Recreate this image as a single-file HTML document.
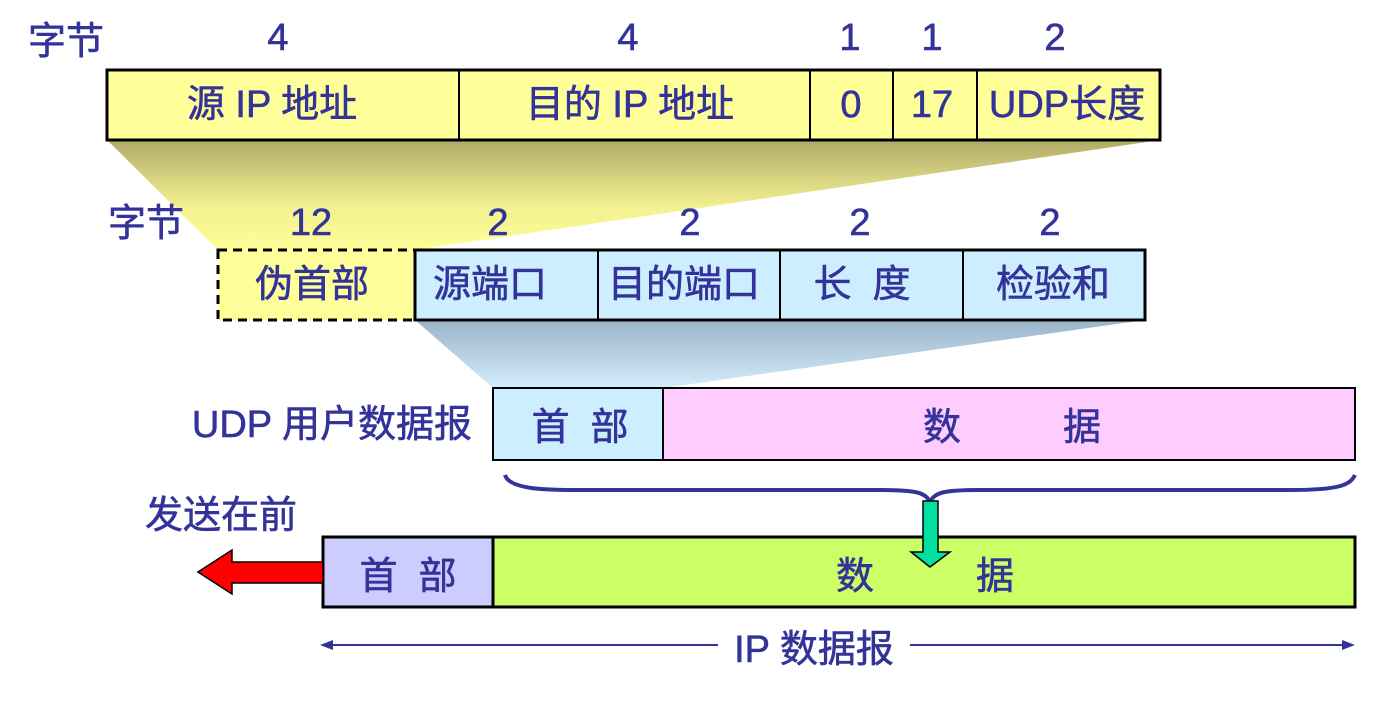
<!DOCTYPE html>
<html><head><meta charset="utf-8"><style>
body{margin:0;background:#fff}
svg text{font-family:"Liberation Sans","Noto Sans CJK SC",sans-serif;fill:#333399;font-size:38px;white-space:pre;stroke:#333399;stroke-width:0.6}
</style></head><body>
<svg width="1374" height="696" viewBox="0 0 1374 696" xmlns="http://www.w3.org/2000/svg">
<defs>
<linearGradient id="gy" x1="0" y1="0" x2="0" y2="1"><stop offset="0" stop-color="#b0aa6a"/><stop offset="0.6" stop-color="#f2f090"/><stop offset="1" stop-color="#ffff99"/></linearGradient>
<linearGradient id="gb" x1="0" y1="0" x2="0" y2="1"><stop offset="0" stop-color="#9ab4c8"/><stop offset="1" stop-color="#d4ecfb"/></linearGradient>
</defs>
<polygon points="107,140 1160,140 415,250 218,250" fill="url(#gy)"/>
<polygon points="415,320 1145,320 663,388 493,388" fill="url(#gb)"/>
<text x="28" y="54" font-size="34">字节</text>
<g text-anchor="middle" font-size="36">
<text x="278" y="50" font-size="36">4</text><text x="628" y="50" font-size="36">4</text><text x="850" y="50" font-size="36">1</text><text x="932" y="50" font-size="36">1</text><text x="1055" y="50" font-size="36">2</text>
</g>
<rect x="107" y="70" width="1053" height="70" fill="#ffff99" stroke="#000" stroke-width="3"/>
<g stroke="#000" stroke-width="2"><line x1="459" y1="70" x2="459" y2="140"/><line x1="810" y1="70" x2="810" y2="140"/><line x1="893" y1="70" x2="893" y2="140"/><line x1="977" y1="70" x2="977" y2="140"/></g>
<g text-anchor="middle">
<text x="272" y="117">源 IP 地址</text><text x="630" y="117">目的 IP 地址</text><text x="851" y="117">0</text><text x="932" y="117">17</text><text x="1067" y="117">UDP长度</text>
</g>
<text x="108" y="236" font-size="34">字节</text>
<g text-anchor="middle">
<text x="311" y="235" font-size="36">12</text><text x="498" y="235" font-size="36">2</text><text x="690" y="235" font-size="36">2</text><text x="860" y="235" font-size="36">2</text><text x="1050" y="235" font-size="36">2</text>
</g>
<rect x="218" y="250" width="197" height="70" fill="#ffff99" stroke="#000" stroke-width="3" stroke-dasharray="9,6"/>
<rect x="415" y="250" width="730" height="70" fill="#cceeff" stroke="#000" stroke-width="3"/>
<g stroke="#000" stroke-width="2"><line x1="598" y1="250" x2="598" y2="320"/><line x1="780" y1="250" x2="780" y2="320"/><line x1="963" y1="250" x2="963" y2="320"/></g>
<g text-anchor="middle">
<text x="312" y="297">伪首部</text><text x="490" y="297">源端口</text><text x="684" y="297">目的端口</text><text x="862" y="297">长  度</text><text x="1053" y="297">检验和</text>
</g>
<text x="472" y="437" text-anchor="end">UDP 用户数据报</text>
<rect x="493" y="388" width="170" height="72" fill="#cceeff" stroke="#000" stroke-width="2"/>
<rect x="663" y="388" width="692" height="72" fill="#ffccff" stroke="#000" stroke-width="2"/>
<text x="580" y="440" text-anchor="middle">首  部</text>
<text x="942" y="440" text-anchor="middle">数</text><text x="1082" y="440" text-anchor="middle">据</text>
<path d="M505,475 C510,492 560,490 600,490 L880,490 C915,490 925,492 930,502 C935,492 945,490 980,490 L1290,490 C1340,490 1350,485 1355,475" fill="none" stroke="#333399" stroke-width="4"/>
<text x="145" y="528" font-size="35">发送在前</text>
<rect x="323" y="537" width="170" height="70" fill="#ccccff" stroke="#000" stroke-width="3"/>
<rect x="493" y="537" width="862" height="70" fill="#ccff66" stroke="#000" stroke-width="3"/>
<text x="408" y="589" text-anchor="middle">首  部</text>
<text x="855" y="589" text-anchor="middle">数</text><text x="995" y="589" text-anchor="middle">据</text>
<polygon points="923,501 938,501 938,552 950,552 930,567 911,552 923,552" fill="#00e0a0" stroke="#000" stroke-width="1.5"/>
<polygon points="323,562 232,562 232,550 198,572 232,594 232,583 323,583" fill="#ff0000" stroke="#000" stroke-width="1.5"/>
<line x1="325" y1="645" x2="718" y2="645" stroke="#333399" stroke-width="2"/>
<line x1="910" y1="645" x2="1350" y2="645" stroke="#333399" stroke-width="2"/>
<polygon points="320,645 333,640 333,650" fill="#333399"/>
<polygon points="1355,645 1342,640 1342,650" fill="#333399"/>
<text x="814" y="662" text-anchor="middle">IP 数据报</text>
</svg>
</body></html>
